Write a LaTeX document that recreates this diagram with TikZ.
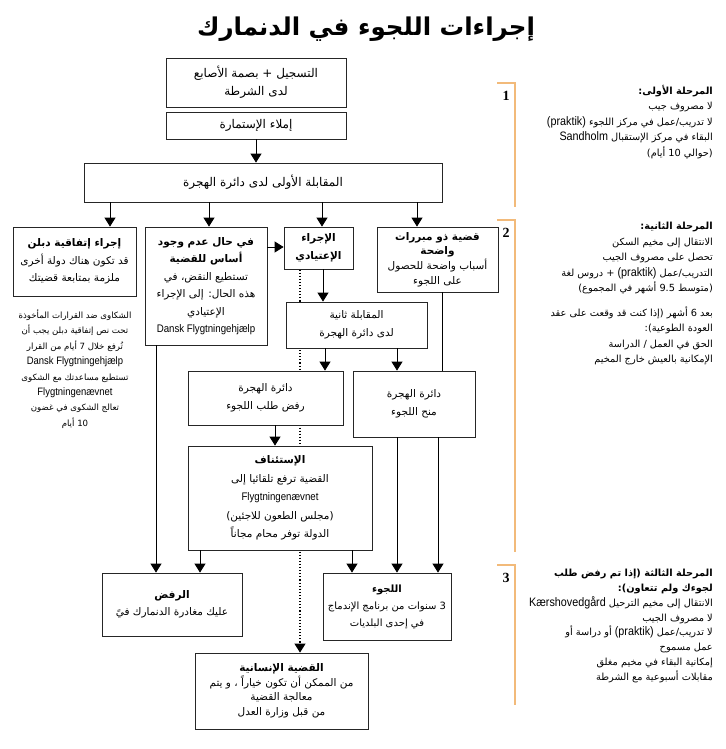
\documentclass[tikz,border=0pt]{standalone}
\usepackage{fontspec}
\setmainfont{DejaVu Sans}
\newfontfamily\arabicfont[Script=Arabic]{DejaVu Sans}
\newfontfamily\latinfont[FakeStretch=0.88,Scale=1.25]{Liberation Sans}
\newfontfamily\numfont{Liberation Serif}
\TeXXeTstate=1
\usetikzlibrary{arrows.meta,backgrounds}

\definecolor{stageorange}{RGB}{242,186,122}
\newcommand{\rl}[1]{\beginR #1\endR}
\newcommand{\lt}[1]{{\latinfont #1}}
\newcommand{\ltbox}[1]{{\latinfont\fontsize{8.8}{17}\selectfont #1}}

\tikzset{
  box/.style={draw=black!85, line width=0.8pt, fill=white, align=center, inner sep=1pt,
    font=\arabicfont\fontsize{10.5}{17.5}\selectfont},
  bigbox/.style={box, font=\arabicfont\fontsize{12}{18}\selectfont},
  link/.style={line width=0.8pt, -{Triangle[width=11pt,length=9pt]}},
  plain/.style={line width=0.8pt},
  note/.style={align=right, anchor=north east, inner sep=0pt,
    font=\arabicfont\fontsize{9.8}{15.5}\selectfont},
  stage/.style={stageorange, line width=1.4pt},
  stagenum/.style={font=\numfont\bfseries\fontsize{14}{14}\selectfont},
}

\begin{document}
\begin{tikzpicture}[x=1pt,y=-1pt]
  \useasboundingbox (0,0) rectangle (725,749);

  % title
  \node[font=\arabicfont\bfseries\fontsize{24.5}{28}\selectfont] (title) at (366,29)
    {\rl{إجراءات اللجوء في الدنمارك}};

  % first stage boxes
  \node[bigbox, minimum width=180pt, minimum height=49pt] (reg) at (256,82.5)
    {\rl{التسجيل + بصمة الأصابع}\\\rl{لدى الشرطة}};
  \node[bigbox, minimum width=180pt, minimum height=27pt] (form) at (256,125.5)
    {\rl{إملاء الإستمارة}};
  \node[bigbox, minimum width=358pt, minimum height=39pt] (interv1) at (263,182.5)
    {\rl{المقابلة الأولى لدى دائرة الهجرة}};

  % second stage boxes
  \node[box, minimum width=123pt, minimum height=69pt] (dublin) at (74.5,261.5)
    {\rl{\bfseries إجراء إتفاقية دبلن}\\\rl{قد تكون هناك دولة أخرى}\\\rl{ملزمة بمتابعة قضيتك}};
  \node[box, minimum width=122pt, minimum height=118pt] (nobasis) at (206,286)
    {\rl{\bfseries في حال عدم وجود}\\\rl{\bfseries أساس للقضية}\\\rl{تستطيع النقض، في}\\
     \rl{هذه الحال: إلى الإجراء}\\\rl{الإعتيادي}\\\ltbox{Dansk Flygtningehjælp}};
  \node[box, minimum width=69pt, minimum height=42pt] (normal) at (318.5,248)
    {\rl{\bfseries الإجراء}\\\rl{\bfseries الإعتيادي}};
  \node[box, minimum width=121pt, minimum height=65pt, font=\arabicfont\fontsize{10.5}{14.8}\selectfont] (clear) at (437.5,259.5)
    {\rl{\bfseries قضية ذو مبررات}\\\rl{\bfseries واضحة}\\\rl{أسباب واضحة للحصول}\\\rl{على اللجوء}};
  \node[box, minimum width=141pt, minimum height=46pt] (interv2) at (356.5,325)
    {\rl{المقابلة ثانية}\\\rl{لدى دائرة الهجرة}};
  \node[box, minimum width=155pt, minimum height=54pt] (reject) at (265.5,398)
    {\rl{دائرة الهجرة}\\\rl{رفض طلب اللجوء}};
  \node[box, minimum width=122pt, minimum height=66pt] (grant) at (414,404)
    {\rl{دائرة الهجرة}\\\rl{منح اللجوء}};
  \node[box, minimum width=184pt, minimum height=104pt, font=\arabicfont\fontsize{10.5}{18.5}\selectfont] (appeal) at (280,498)
    {\rl{\bfseries الإستئناف}\\\rl{القضية ترفع تلقائيا إلى}\\\ltbox{Flygtningenævnet}\\
     \rl{(مجلس الطعون للاجئين)}\\\rl{الدولة توفر محام مجاناً}};

  % dublin complaints text
  \node[align=center, font=\arabicfont\fontsize{8.6}{15.4}\selectfont] (dubnote) at (75,369)
    {\rl{الشكاوى ضد القرارات المأخوذة}\\\rl{تحت نص إتفاقية دبلن يجب أن}\\
     \rl{تُرفع خلال 7 أيام من القرار}\\\lt{Dansk Flygtningehjælp}\\
     \rl{تستطيع مساعدتك مع الشكوى}\\\lt{Flygtningenævnet}\\
     \rl{تعالج الشكوى في غضون}\\\rl{10 أيام}};

  % third stage boxes
  \node[box, minimum width=140pt, minimum height=63pt] (refusal) at (172,604.5)
    {\rl{\bfseries الرفض}\\\rl{عليك مغادرة الدنمارك فيً}};
  \node[box, minimum width=128pt, minimum height=67pt, font=\arabicfont\fontsize{10}{17}\selectfont] (asylum) at (387,606.5)
    {\rl{\bfseries اللجوء}\\\rl{3 سنوات من برنامج الإندماج}\\\rl{في إحدى البلديات}};
  \node[box, minimum width=173pt, minimum height=76pt, font=\arabicfont\fontsize{10.5}{14.5}\selectfont] (human) at (281.5,691)
    {\rl{\bfseries القضية الإنسانية}\\\rl{من الممكن أن تكون خياراً ، و يتم}\\
     \rl{معالجة القضية}\\\rl{من قبل وزارة العدل}};

  % connectors
  \draw[link] (form.south) -- (form.south |- interv1.north);
  \draw[link] (interv1.south -| 110,0) -- (dublin.north -| 110,0);
  \draw[link] (interv1.south -| 209,0) -- (nobasis.north -| 209,0);
  \draw[link] (interv1.south -| 322,0) -- (normal.north -| 322,0);
  \draw[link] (interv1.south -| 417,0) -- (clear.north -| 417,0);
  \draw[link] (nobasis.east |- 0,247) -- (normal.west |- 0,247);
  \draw[link] (normal.south -| 323,0) -- (interv2.north -| 323,0);
  \draw[plain] (clear.south -| 442,0) -- (grant.north -| 442,0);
  \draw[link] (interv2.south -| 325,0) -- (reject.north -| 325,0);
  \draw[link] (interv2.south -| 397,0) -- (grant.north -| 397,0);
  \draw[link] (reject.south -| 275,0) -- (appeal.north -| 275,0);
  \draw[link] (nobasis.south -| 156,0) -- (refusal.north -| 156,0);
  \draw[link] (appeal.south -| 200,0) -- (refusal.north -| 200,0);
  \draw[link] (appeal.south -| 352,0) -- (asylum.north -| 352,0);
  \draw[link] (grant.south -| 397,0) -- (asylum.north -| 397,0);
  \draw[link] (grant.south -| 438,0) -- (asylum.north -| 438,0);

  % dotted path to the humanitarian case (behind the boxes)
  \begin{scope}[on background layer]
    \draw[line width=1.1pt, dash pattern=on 1.1pt off 2pt, -{Triangle[width=11pt,length=9pt]}]
      (normal.south -| 300,0) -- (human.north -| 300,0);
  \end{scope}

  % stage brackets
  \draw[stage] (497,83) -- (515,83) -- (515,207);
  \draw[stage] (497,220) -- (515,220) -- (515,552);
  \draw[stage] (497,565) -- (515,565) -- (515,705);
  \node[stagenum] (n1) at (506,96) {1};
  \node[stagenum] (n2) at (506,233) {2};
  \node[stagenum] (n3) at (506,578) {3};

  % stage notes
  \node[note] (st1) at (713,85)
    {\rl{\bfseries المرحلة الأولى:}\\\rl{لا مصروف جيب}\\
     \rl{لا تدريب/عمل في مركز اللجوء \lt{(praktik)}}\\
     \rl{البقاء في مركز الإستقبال \lt{Sandholm}}\\\rl{(حوالي 10 أيام)}};
  \node[note] (st2) at (713,222)
    {\rl{\bfseries المرحلة الثانية:}\\\rl{الانتقال إلى مخيم السكن}\\
     \rl{تحصل على مصروف الجيب}\\\rl{التدريب/عمل \lt{(praktik)} + دروس لغة}\\
     \rl{(متوسط 9.5 أشهر في المجموع)}\\[9pt]
     \rl{بعد 6 أشهر (إذا كنت قد وقعت على عقد}\\\rl{العودة الطوعية):}\\
     \rl{الحق في العمل / الدراسة}\\\rl{الإمكانية بالعيش خارج المخيم}};
  \node[note, font=\arabicfont\fontsize{9.8}{14.8}\selectfont] (st3) at (713,569)
    {\rl{\bfseries المرحلة الثالثة (إذا تم رفض طلب}\\\rl{\bfseries لجوءك ولم تتعاون):}\\
     \rl{الانتقال إلى مخيم الترحيل \lt{Kærshovedgård}}\\\rl{لا مصروف الجيب}\\
     \rl{لا تدريب/عمل \lt{(praktik)} أو دراسة أو}\\\rl{عمل مسموح}\\
     \rl{إمكانية البقاء في مخيم مغلق}\\\rl{مقابلات أسبوعية مع الشرطة}};
\end{tikzpicture}
\end{document}
